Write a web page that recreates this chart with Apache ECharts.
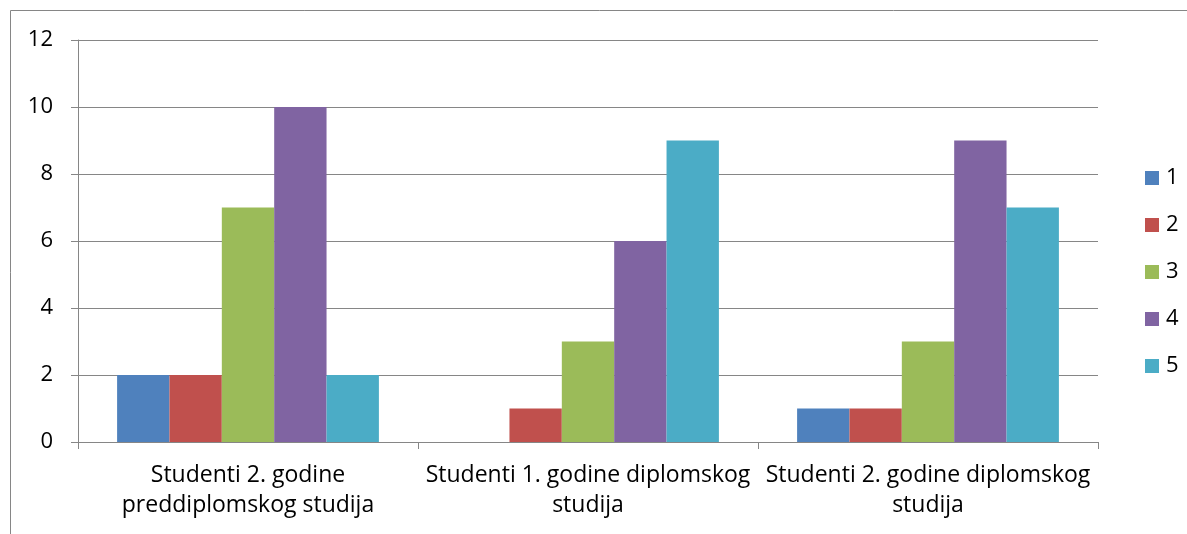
<!DOCTYPE html>
<html>
<head>
<meta charset="utf-8">
<title>Ocjene po godinama studija</title>
<script src="https://cdn.jsdelivr.net/npm/echarts@6/dist/echarts.min.js"></script>
<style>
  html, body { margin: 0; padding: 0; background: #fff; }
  #chart { width: 1187px; height: 534px; }
</style>
</head>
<body>
<div id="chart"></div>
<script>
// kategorije (skupine studenata)
const categories = [
  'Studenti 2. godine\npreddiplomskog studija',
  'Studenti 1. godine diplomskog\nstudija',
  'Studenti 2. godine diplomskog\nstudija'
]
// ocjene 1-5, broj studenata po skupini
const seriesNames = ['1', '2', '3', '4', '5']
const grade1 = [2, 0, 1]
const grade2 = [2, 1, 1]
const grade3 = [7, 3, 3]
const grade4 = [10, 6, 9]
const grade5 = [2, 9, 7]
const yTicks = { min: 0, max: 12, interval: 2 }

const colors = ['#4F81BD', '#C0504D', '#9BBB59', '#8064A2', '#4BACC6']
const font = '"Open Sans", sans-serif'
const gray = '#868686'

const chart = echarts.init(document.getElementById('chart'))
const values = [grade1, grade2, grade3, grade4, grade5]

chart.setOption({
  animation: false,
  color: colors,
  textStyle: { fontFamily: font },
  graphic: [{
    type: 'rect',
    shape: { x: 10.5, y: 10.5, width: 1300, height: 700 },
    style: { fill: 'none', stroke: gray, lineWidth: 1 },
    silent: true
  }],
  grid: {
    left: 78,
    right: 89,
    top: 40,
    bottom: 92
  },
  legend: {
    orient: 'vertical',
    left: 1140,
    top: 162,
    itemWidth: 14,
    itemHeight: 14,
    itemGap: 25,
    icon: 'rect',
    textStyle: { fontSize: 22, lineHeight: 22, color: '#000', fontFamily: font, padding: [0, 0, 0, 2] },
    data: seriesNames
  },
  xAxis: {
    type: 'category',
    data: categories,
    axisLine: { lineStyle: { color: gray } },
    axisTick: { show: true, alignWithLabel: false, length: 7, lineStyle: { color: gray } },
    axisLabel: {
      color: '#000',
      fontSize: 23,
      lineHeight: 30,
      margin: 18,
      interval: 0,
      fontFamily: font
    },
    splitLine: { show: false }
  },
  yAxis: {
    type: 'value',
    min: yTicks.min,
    max: yTicks.max,
    interval: yTicks.interval,
    axisLine: { show: true, lineStyle: { color: gray } },
    axisTick: { show: true, length: 7, lineStyle: { color: gray } },
    axisLabel: { color: '#000', fontSize: 22, margin: 25, fontFamily: font },
    splitLine: { lineStyle: { color: gray } }
  },
  series: seriesNames.map((name, i) => ({
    name: name,
    type: 'bar',
    data: values[i],
    barGap: '0%',
    barCategoryGap: '23%'
  }))
})
</script>
</body>
</html>
